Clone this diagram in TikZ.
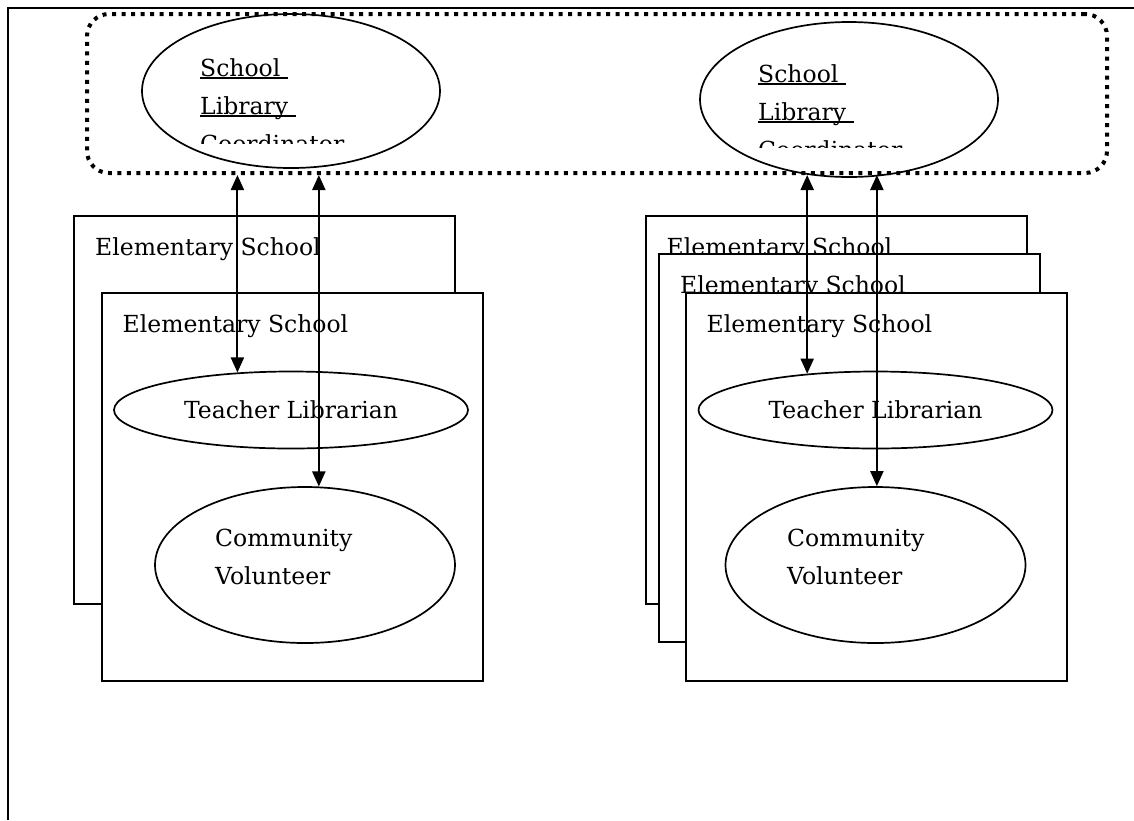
\documentclass[tikz,border=0pt]{standalone}
\usepackage{fontspec}
\setmainfont{DejaVu Serif}
\usepackage{tikz}
\usetikzlibrary{arrows.meta,positioning,shapes.geometric}

\newcommand{\ulword}[1]{\setbox0\hbox{#1}\rlap{\rule[-3pt]{\wd0}{2pt}}\box0}

\tikzset{
  school/.style={draw, line width=2pt, fill=white, minimum width=381pt, minimum height=388pt, inner sep=0pt},
  sname/.style={inner sep=0pt},
  role/.style={draw, ellipse, line width=1.7pt, inner sep=0pt},
  link/.style={line width=2pt, {Triangle[width=13pt,length=15pt]}-{Triangle[width=13pt,length=15pt]}},
  group/.style={draw, line width=4pt, dash pattern=on 4pt off 5.5pt, rounded corners=22pt, minimum width=1020pt, minimum height=159pt, inner sep=0pt}
}

\begin{document}
\begin{tikzpicture}[x=1pt, y=-1pt, font=\fontsize{23.5}{38}\selectfont]
	\useasboundingbox (0,0) rectangle (1134,820);
	\draw[line width=2.2pt] (8,820) -- (8,8) -- (1134,8);

	% school library coordinators
	\node[role, minimum width=298pt, minimum height=154pt] (slc1) at (291,91) {};
	\begin{scope}
		\clip (100,10) rectangle (480,143);
		\node[anchor=north west, inner sep=0pt, align=left] (slc1t) at (200,58.1)
		{\ulword{School }\\\ulword{Library }\\\ulword{Coordinator}};
	\end{scope}
	\node[role, minimum width=298pt, minimum height=155pt] (slc2) at (849,99.5) {};
	\begin{scope}
		\clip (660,10) rectangle (1040,147);
		\node[anchor=north west, inner sep=0pt, align=left] (slc2t) at (758,64.1)
		{\ulword{School }\\\ulword{Library }\\\ulword{Coordinator}};
	\end{scope}
	\node[group] (grp) at (597,93.5) {};

	% left: two schools
	\node[school] (es1) at (264.5,410) {};
	\node[sname, below right=40pt and 22pt of es1.north west, anchor=base west] (es1t) {Elementary School};
	\node[school] (es2) at (292,487) {};
	\node[sname, below right=40pt and 22pt of es2.north west, anchor=base west] (es2t) {Elementary School};
	\node[role, minimum width=354pt, minimum height=77pt] (tl1) at (291,410) {Teacher Librarian};
	\node[role, minimum width=300pt, minimum height=156pt] (cv1) at (305,565) {};
	\node[anchor=north west, inner sep=0pt, align=left] (cv1t) at (215,529.1) {Community\\Volunteer};

	% right: three schools
	\node[school] (es3) at (836,410) {};
	\node[sname, below right=40pt and 22pt of es3.north west, anchor=base west] (es3t) {Elementary School};
	\node[school] (es4) at (849.5,448) {};
	\node[sname, below right=40pt and 22pt of es4.north west, anchor=base west] (es4t) {Elementary School};
	\node[school] (es5) at (876,487) {};
	\node[sname, below right=40pt and 22pt of es5.north west, anchor=base west] (es5t) {Elementary School};
	\node[role, minimum width=354pt, minimum height=77pt] (tl2) at (875.5,410) {Teacher Librarian};
	\node[role, minimum width=300pt, minimum height=156pt] (cv2) at (875.5,565) {};
	\node[anchor=north west, inner sep=0pt, align=left] (cv2t) at (787,529.1) {Community\\Volunteer};

	% links
	\draw[link] (grp.south -| tl1.145) -- (tl1.145);
	\draw[link] (grp.south -| cv1.80) -- (cv1.80);
	\draw[link] (grp.south -| tl2.152) -- (tl2.152);
	\draw[link] (grp.south -| cv2.89) -- (cv2.89);
\end{tikzpicture}
\end{document}
